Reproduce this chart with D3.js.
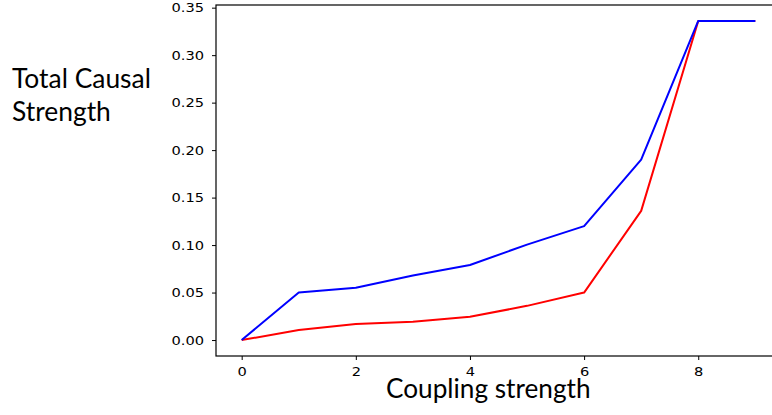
<!DOCTYPE html>
<html><head><meta charset="utf-8">
<script src="https://cdn.jsdelivr.net/npm/d3@7"></script>
<style>
html,body{margin:0;padding:0;background:#fff;overflow:hidden;}
</style></head>
<body>
<svg id="chart" width="772" height="415"></svg>
<script>
const xValues = [0, 1, 2, 3, 4, 5, 6, 7, 8, 9];
const blueValues = [0, 0.050, 0.055, 0.068, 0.079, 0.1005, 0.120, 0.190, 0.336, 0.336];
const redValues = [0, 0.0105, 0.0168, 0.0193, 0.0245, 0.036, 0.050, 0.136, 0.336, 0.336];
const xTicks = [0, 2, 4, 6, 8];
const yTicks = [0, 0.05, 0.10, 0.15, 0.20, 0.25, 0.30, 0.35];
const yLabelLines = ["Total Causal", "Strength"];
const xLabel = "Coupling strength";

const svg = d3.select("#chart");
const m = {left: 216, top: 5, right: 781, bottom: 356};
const x = d3.scaleLinear().domain([-0.45, 9.45]).range([m.left, m.right]);
const y = d3.scaleLinear().domain([-0.0168, 0.3528]).range([m.bottom, m.top]);

const line = d3.line().x((d, i) => x(xValues[i])).y(d => y(d));

svg.append("path").datum(redValues).attr("d", line)
  .attr("fill", "none").attr("stroke", "#ff0000").attr("stroke-width", 2).attr("stroke-linejoin", "round");
svg.append("path").datum(blueValues).attr("d", line)
  .attr("fill", "none").attr("stroke", "#0000ff").attr("stroke-width", 2).attr("stroke-linejoin", "round");

const xAxis = svg.append("g").attr("transform", `translate(0,${m.bottom})`)
  .call(d3.axisBottom(x).tickValues(xTicks).tickFormat(d3.format("d")).tickSize(4).tickPadding(7));
const yAxis = svg.append("g").attr("transform", `translate(${m.left},0)`)
  .call(d3.axisLeft(y).tickValues(yTicks).tickFormat(d3.format(".2f")).tickSize(4).tickPadding(8));
[xAxis, yAxis].forEach(g => {
  g.select(".domain").remove();
  g.selectAll("line").attr("stroke", "#000").attr("stroke-width", 1);
  g.selectAll("text").attr("fill", "#000").style("font-family", "DejaVu Sans").style("font-size", "12.4px")
    .attr("transform", function() {
      const x0 = +this.getAttribute("x") || 0;
      return `translate(${x0},0) scale(1.18,1) translate(${-x0},0)`;
    });
});

// frame
svg.append("rect").attr("x", m.left).attr("y", m.top)
  .attr("width", m.right - m.left).attr("height", m.bottom - m.top)
  .attr("fill", "none").attr("stroke", "#000").attr("stroke-width", 1.2);

const lab = svg.append("text").attr("x", 12).attr("y", 88)
  .style("font-family", "Lato").style("font-size", "26.4px").attr("fill", "#000");
yLabelLines.forEach((t, i) => lab.append("tspan").attr("x", 12).attr("y", 88 + i * 33).text(t));

svg.append("text").attr("x", 386).attr("y", 398)
  .style("font-family", "Lato").style("font-size", "26.2px").attr("fill", "#000").text(xLabel);
</script>
</body></html>
